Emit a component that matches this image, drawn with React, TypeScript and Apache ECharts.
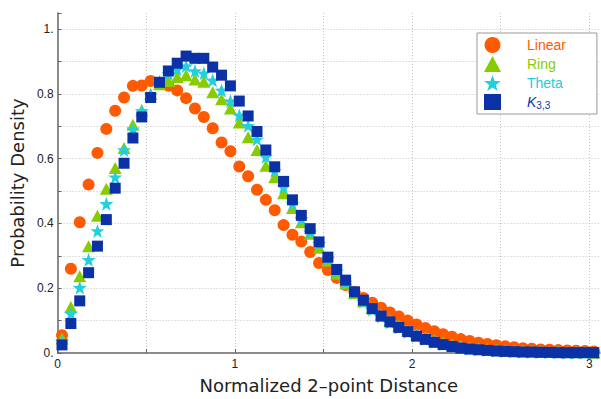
import React, { useEffect, useRef } from "react";
import * as echarts from "echarts";

const xs = [
  0.025, 0.075, 0.125, 0.175, 0.225, 0.275, 0.325, 0.375, 0.425, 0.475,
  0.525, 0.575, 0.625, 0.675, 0.725, 0.775, 0.825, 0.875, 0.925, 0.975,
  1.025, 1.075, 1.125, 1.175, 1.225, 1.275, 1.325, 1.375, 1.425, 1.475,
  1.525, 1.575, 1.625, 1.675, 1.725, 1.775, 1.825, 1.875, 1.925, 1.975,
  2.025, 2.075, 2.125, 2.175, 2.225, 2.275, 2.325, 2.375, 2.425, 2.475,
  2.525, 2.575, 2.625, 2.675, 2.725, 2.775, 2.825, 2.875, 2.925, 2.975,
  3.025,
];

const linear = [
  0.055, 0.26, 0.404, 0.52, 0.618, 0.692, 0.748, 0.789, 0.825, 0.826,
  0.84, 0.832, 0.825, 0.811, 0.787, 0.755, 0.729, 0.694, 0.65, 0.623,
  0.576, 0.546, 0.504, 0.473, 0.441, 0.395, 0.365, 0.344, 0.312, 0.278,
  0.256, 0.232, 0.21, 0.188, 0.17, 0.155, 0.14, 0.125, 0.113, 0.1,
  0.088, 0.077, 0.067, 0.058, 0.05, 0.043, 0.037, 0.032, 0.028, 0.024,
  0.021, 0.018, 0.015, 0.013, 0.011, 0.01, 0.009, 0.008, 0.007, 0.006,
  0.005,
];

const ring = [
  0.045, 0.142, 0.237, 0.33, 0.424, 0.507, 0.571, 0.633, 0.705, 0.75,
  0.8, 0.83, 0.84, 0.852, 0.858, 0.845, 0.838, 0.805, 0.784, 0.755,
  0.712, 0.666, 0.627, 0.578, 0.543, 0.493, 0.448, 0.404, 0.368, 0.325,
  0.286, 0.245, 0.215, 0.185, 0.16, 0.138, 0.118, 0.1, 0.085, 0.07,
  0.058, 0.048, 0.04, 0.033, 0.027, 0.022, 0.018, 0.015, 0.012, 0.01,
  0.008, 0.007, 0.006, 0.005, 0.004, 0.003, 0.003, 0.002, 0.002, 0.002,
  0.001,
];

const theta = [
  0.037, 0.122, 0.202, 0.288, 0.377, 0.461, 0.543, 0.627, 0.691, 0.748,
  0.796, 0.838, 0.862, 0.876, 0.886, 0.871, 0.864, 0.842, 0.811, 0.778,
  0.734, 0.702, 0.66, 0.606, 0.563, 0.512, 0.461, 0.414, 0.373, 0.338,
  0.291, 0.252, 0.218, 0.186, 0.158, 0.134, 0.113, 0.095, 0.079, 0.065,
  0.053, 0.043, 0.035, 0.028, 0.022, 0.018, 0.014, 0.011, 0.009, 0.007,
  0.006, 0.005, 0.004, 0.003, 0.003, 0.002, 0.002, 0.001, 0.001, 0.001,
  0.001,
];

const k33 = [
  0.025, 0.091, 0.161, 0.248, 0.33, 0.412, 0.509, 0.586, 0.664, 0.729,
  0.789, 0.836, 0.871, 0.895, 0.917, 0.91, 0.91, 0.883, 0.858, 0.825,
  0.778, 0.732, 0.684, 0.627, 0.575, 0.53, 0.473, 0.425, 0.384, 0.343,
  0.296, 0.258, 0.225, 0.189, 0.163, 0.137, 0.114, 0.096, 0.079, 0.066,
  0.052, 0.042, 0.033, 0.026, 0.02, 0.015, 0.012, 0.01, 0.008, 0.006,
  0.005, 0.004, 0.003, 0.003, 0.002, 0.002, 0.001, 0.001, 0.001, 0.001,
  0.001,
];

const seriesNames = ["Linear", "Ring", "Theta", "K33"];
const seriesColors = ["#FF5A00", "#88CC00", "#22D0DD", "#0A31A6"];
const legendTextColors = ["#FF5A00", "#88CC00", "#22CCDD", "#1033AA"];

const STAR =
  "path://M0,-10L2.35,-3.24L9.51,-3.09L3.8,1.24L5.88,8.09L0,4.1L-5.88,8.09L-3.8,1.24L-9.51,-3.09L-2.35,-3.24Z";

export default function App() {
  const ref = useRef<HTMLDivElement>(null);

  useEffect(() => {
    if (!ref.current) return;
    const chart = echarts.init(ref.current, undefined, { renderer: "svg" });

    const pairs = (ys: number[]) => xs.map((x, i) => [x, ys[i]]);
    const datasets = [linear, ring, theta, k33];
    const symbols: any[] = ["circle", "triangle", STAR, "rect"];
    const sizes: any[] = [12, [13, 12], 14, 11];

    const tickFont = {
      fontFamily: "Liberation Sans, Arial, sans-serif",
      fontSize: 12,
      color: "#222",
    };

    chart.setOption({
      animation: false,
      backgroundColor: "#fff",
      grid: { left: 57, right: 1, top: 13, bottom: 46, containLabel: false },
      xAxis: {
        type: "value",
        min: 0,
        max: 3.06,
        interval: 0.5,
        name: "Normalized 2\u2013point Distance",
        nameLocation: "middle",
        nameGap: 23,
        nameTextStyle: {
          fontFamily: "DejaVu Sans, sans-serif",
          fontSize: 18,
          color: "#222",
        },
        axisLine: { lineStyle: { color: "#666", width: 1.5 } },
        axisTick: { show: true, inside: true, length: 4, lineStyle: { color: "#666" } },
        axisLabel: {
          ...tickFont,
          margin: 5,
          showMaxLabel: false,
          formatter: (v: number) =>
            Math.abs(v - Math.round(v)) < 1e-6 && v <= 3.0001 ? String(Math.round(v)) : "",
        },
        splitLine: {
          show: true,
          showMinLine: false,
          showMaxLine: false,
          lineStyle: { color: "#c4c4c4", type: [1, 2], width: 1 },
        },
      },
      yAxis: {
        type: "value",
        min: 0,
        max: 1.05,
        interval: 0.1,
        name: "Probability Density",
        nameLocation: "middle",
        nameGap: 24,
        nameTextStyle: {
          fontFamily: "DejaVu Sans, sans-serif",
          fontSize: 18,
          color: "#222",
        },
        axisLine: { show: true, lineStyle: { color: "#666", width: 1.5 } },
        axisTick: { show: true, inside: true, length: 4, lineStyle: { color: "#666" } },
        axisLabel: {
          ...tickFont,
          margin: 4,
          formatter: (v: number) => {
            if (Math.abs(v * 5 - Math.round(v * 5)) > 1e-6 || v > 1.0001) return "";
            if (Math.abs(v) < 1e-6) return "0.";
            if (Math.abs(v - 1) < 1e-6) return "1.";
            return v.toFixed(1);
          },
        },
        splitLine: {
          show: true,
          showMinLine: false,
          showMaxLine: false,
          lineStyle: { color: "#c4c4c4", type: [1, 2], width: 1 },
        },
      },
      legend: {
        show: true,
        orient: "vertical",
        left: 477,
        top: 33,
        padding: [4, 31, 4, 7],
        itemWidth: 17,
        itemHeight: 16,
        itemGap: 3,
        backgroundColor: "#fff",
        borderColor: "#999",
        borderWidth: 1,
        borderRadius: 0,
        textStyle: {
          fontFamily: "Liberation Sans, Arial, sans-serif",
          fontSize: 14,
          lineHeight: 16,
          padding: [0, 0, 0, 21],
          rich: {
            k: {
              fontFamily: "Liberation Sans, Arial, sans-serif",
              fontSize: 14,
              fontStyle: "italic",
              color: legendTextColors[3],
            },
            s: {
              fontFamily: "Liberation Sans, Arial, sans-serif",
              fontSize: 10,
              verticalAlign: "bottom",
              padding: [6, 0, 0, 0],
              color: legendTextColors[3],
            },
          },
        },
        formatter: (name: string) => (name === "K33" ? "{k|K}{s|3,3}" : name),
        data: seriesNames.map((n, i) => ({
          name: n,
          textStyle: { color: legendTextColors[i] },
        })),
      },
      series: datasets.map((ys, i) => ({
        name: seriesNames[i],
        type: "scatter",
        data: pairs(ys),
        symbol: symbols[i],
        symbolSize: sizes[i],
        itemStyle: { color: seriesColors[i], opacity: 1 },
        emphasis: { disabled: true },
        clip: false,
        z: 2 + i,
      })),
    });

    return () => chart.dispose();
  }, []);

  return (
    <div
      ref={ref}
      style={{ position: "fixed", left: 0, top: 0, width: 601, height: 399 }}
    />
  );
}
